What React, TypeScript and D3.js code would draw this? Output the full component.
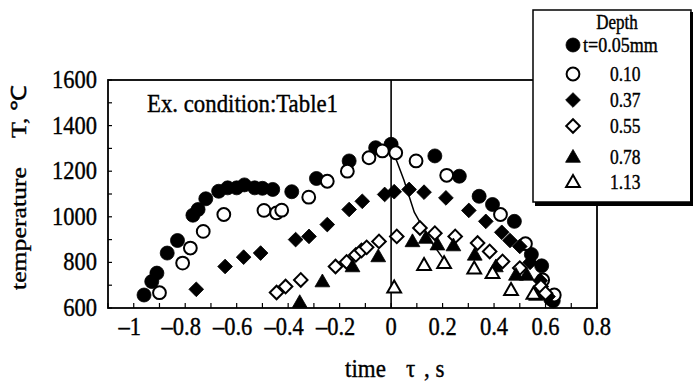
import React from "react";
import * as d3 from "d3";

const xTicks = [-1, -0.8, -0.6, -0.4, -0.2, 0, 0.2, 0.4, 0.6, 0.8];
const xTickLabels = ["–1", "–0.8", "–0.6", "–0.4", "–0.2", "0", "0.2", "0.4", "0.6", "0.8"];
const yTicks = [600, 800, 1000, 1200, 1400, 1600];

const s005: [number, number][] = [
  [-0.96, 657], [-0.93, 716], [-0.91, 753], [-0.87, 841], [-0.83, 896], [-0.77, 1007],
  [-0.75, 1032], [-0.72, 1079], [-0.67, 1112], [-0.635, 1127], [-0.6, 1127], [-0.57, 1140],
  [-0.53, 1127], [-0.5, 1125], [-0.46, 1120], [-0.386, 1110], [-0.29, 1168], [-0.163, 1245],
  [-0.06, 1303], [0.0, 1318], [0.17, 1267], [0.265, 1178], [0.342, 1090], [0.394, 1054],
  [0.479, 980], [0.545, 835], [0.585, 785], [0.62, 640], [0.63, 632],
];
const s010: [number, number][] = [
  [-0.9, 667], [-0.81, 797], [-0.78, 863], [-0.73, 936], [-0.65, 1010], [-0.494, 1028],
  [-0.445, 1017], [-0.425, 1029], [-0.32, 1086], [-0.248, 1156], [-0.17, 1200], [-0.086, 1259],
  [-0.034, 1289], [0.018, 1281], [0.097, 1245], [0.216, 1182], [0.425, 1010], [0.522, 882],
  [0.589, 723], [0.634, 657],
];
const s037: [number, number][] = [
  [-0.757, 682], [-0.645, 782], [-0.573, 823], [-0.507, 841], [-0.371, 900], [-0.319, 914],
  [-0.248, 966], [-0.163, 1032], [-0.112, 1068], [-0.025, 1098], [0.012, 1110], [0.07, 1120],
  [0.128, 1108], [0.213, 1083], [0.302, 1028], [0.368, 980], [0.43, 932], [0.462, 896],
  [0.5, 870], [0.54, 800], [0.58, 720], [0.61, 650],
];
const s055: [number, number][] = [
  [-0.445, 668], [-0.41, 694], [-0.351, 723], [-0.216, 782], [-0.173, 802], [-0.137, 833],
  [-0.115, 852], [-0.095, 866], [-0.047, 892], [0.022, 914], [0.112, 951], [0.17, 928],
  [0.249, 914], [0.336, 885], [0.383, 848], [0.433, 804], [0.5, 775], [0.582, 694], [0.6, 665],
];
const s078: [number, number][] = [
  [-0.355, 625], [-0.267, 716], [-0.15, 782], [-0.05, 826], [0.083, 892], [0.135, 907],
  [0.18, 878], [0.242, 874], [0.325, 833], [0.407, 782], [0.485, 745], [0.527, 745], [0.563, 657],
];
const s113: [number, number][] = [
  [0.012, 690], [0.128, 789], [0.206, 797], [0.323, 773], [0.394, 753], [0.466, 679], [0.553, 662],
];
const trendLine: [number, number][] = [
  [0.005, 1295], [0.05, 1160], [0.09, 1020], [0.15, 900], [0.2, 820],
];

const legendLabels = ["t=0.05mm", "0.10", "0.37", "0.55", "0.78", "1.13"];

type Kind = "circle" | "diamond" | "triangle";
const seriesDefs: { data: [number, number][]; kind: Kind; filled: boolean }[] = [
  { data: s005, kind: "circle", filled: true },
  { data: s010, kind: "circle", filled: false },
  { data: s037, kind: "diamond", filled: true },
  { data: s055, kind: "diamond", filled: false },
  { data: s078, kind: "triangle", filled: true },
  { data: s113, kind: "triangle", filled: false },
];

const FONT = "'Liberation Serif', 'Times New Roman', serif";

function Marker({ x, y, kind, filled }: { x: number; y: number; kind: Kind; filled: boolean }) {
  const fill = filled ? "#000" : "#fff";
  const sw = filled ? 0.8 : 2;
  if (kind === "circle") {
    return <circle cx={x} cy={y} r={filled ? 7 : 6.4} fill={fill} stroke="#000" strokeWidth={sw} />;
  }
  if (kind === "diamond") {
    const p = d3.symbol(d3.symbolSquare, filled ? 108 : 92)()!;
    return <path d={p} transform={`translate(${x},${y}) rotate(45)`} fill={fill} stroke="#000" strokeWidth={sw} />;
  }
  const p = d3.symbol(d3.symbolTriangle, filled ? 95 : 82)()!;
  return <path d={p} transform={`translate(${x},${y + 1})`} fill={fill} stroke="#000" strokeWidth={sw} />;
}

function Txt({ x, y, size, anchor = "start", sy = 1.1, children, len }: any) {
  return (
    <text
      transform={`translate(${x},${y}) scale(1,${sy})`}
      fontSize={size}
      fontFamily={FONT}
      textAnchor={anchor}
      fill="#000"
      stroke="#000"
      strokeWidth={0.35}
      textLength={len}
      lengthAdjust={len ? "spacingAndGlyphs" : undefined}
    >
      {children}
    </text>
  );
}

export default function App() {
  const W = 694, H = 385;
  const x = d3.scaleLinear().domain([-1.1, 0.8]).range([108, 597]);
  const y = d3.scaleLinear().domain([600, 1600]).range([308, 80]);
  const minorX = d3.range(-11, 9).map((i) => i / 10);
  const minorY = d3.range(600, 1601, 100);
  const line = d3.line<[number, number]>().x((d) => x(d[0])).y((d) => y(d[1]));

  const legendRowsY = [45, 74, 100, 126, 157, 182];

  return (
    <svg width={W} height={H} style={{ position: "absolute", left: 0, top: 0, background: "#fff" }}>
      <rect width={W} height={H} fill="#fff" />
      {/* frame */}
      <rect x={x(-1.1)} y={y(1600)} width={x(0.8) - x(-1.1)} height={y(600) - y(1600)} fill="none" stroke="#000" strokeWidth={1.8} />
      {/* ticks */}
      {minorX.map((t) => (
        <line key={"xt" + t} x1={x(t)} x2={x(t)} y1={y(600)} y2={y(600) - 5} stroke="#000" strokeWidth={1.2} />
      ))}
      {minorY.map((t) => (
        <line key={"yt" + t} x1={x(-1.1)} x2={x(-1.1) + 4} y1={y(t)} y2={y(t)} stroke="#000" strokeWidth={1.2} />
      ))}
      {/* zero line */}
      <line x1={x(0)} x2={x(0)} y1={y(1600)} y2={y(600)} stroke="#000" strokeWidth={1.6} />
      {/* trend line */}
      <path d={line(trendLine)!} fill="none" stroke="#000" strokeWidth={1.5} />
      {/* data */}
      {seriesDefs.map((s, si) =>
        s.data.map((d, i) => (
          <Marker key={si + "-" + i} x={x(d[0])} y={y(d[1])} kind={s.kind} filled={s.filled} />
        ))
      )}
      {/* tick labels */}
      {xTicks.map((t, i) => (
        <Txt key={"xl" + t} x={x(t) - (t < 0 ? 4 : 0)} y={335} size={22.5} anchor="middle" sy={1.1}>
          {xTickLabels[i]}
        </Txt>
      ))}
      {yTicks.map((t) => (
        <Txt key={"yl" + t} x={97} y={y(t) + 8} size={22.5} anchor="end" sy={1.1}>
          {String(t)}
        </Txt>
      ))}
      {/* axis titles */}
      <Txt x={345} y={377} size={23} sy={1.1}>time</Txt>
      <Txt x={406} y={377} size={23} sy={1.1}>τ</Txt>
      <Txt x={424} y={377} size={23} sy={1.1}>, s</Txt>
      <text transform="translate(26,290) rotate(-90)" fontSize={21} fontFamily={FONT} stroke="#000" strokeWidth={0.35} textLength={123} lengthAdjust="spacingAndGlyphs">
        temperature
      </text>
      <text transform="translate(26,138) rotate(-90)" fontSize={21} fontFamily={FONT} stroke="#000" strokeWidth={0.35} textLength={53} lengthAdjust="spacingAndGlyphs">
        T, ℃
      </text>
      {/* annotation */}
      <Txt x={147} y={112} size={22.5} sy={1.15} len={191}>Ex. condition:Table1</Txt>
      {/* legend */}
      <rect x={533} y={10} width={158} height={192} fill="#fff" stroke="#000" strokeWidth={1.5} />
      <line x1={535} x2={693} y1={204} y2={204} stroke="#000" strokeWidth={4} />
      <line x1={691.5} x2={691.5} y1={12} y2={206} stroke="#000" strokeWidth={3} />
      <Txt x={617} y={29} size={17} anchor="middle" sy={1.2}>Depth</Txt>
      {seriesDefs.map((s, i) => (
        <g key={"lg" + i}>
          <Marker x={573} y={legendRowsY[i]} kind={s.kind} filled={s.filled} />
          <Txt x={i === 0 ? 583 : 610} y={legendRowsY[i] + 7} size={i === 0 ? 18 : 17.5} sy={1.2}>
            {legendLabels[i]}
          </Txt>
        </g>
      ))}
    </svg>
  );
}
